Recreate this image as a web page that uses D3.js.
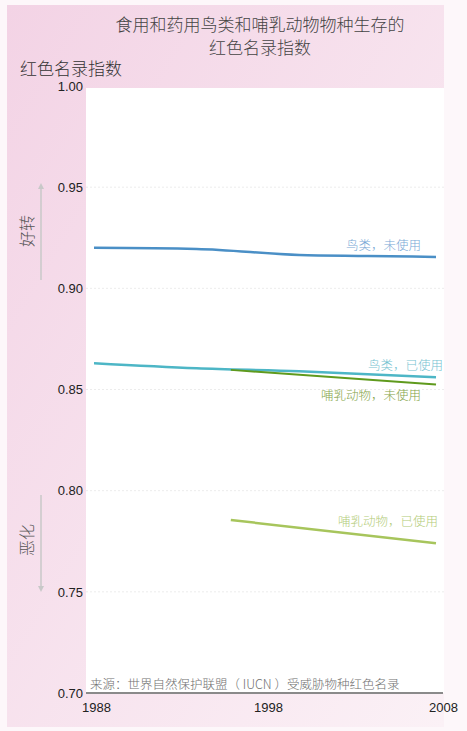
<!DOCTYPE html>
<html>
<head>
<meta charset="utf-8">
<script src="https://cdn.jsdelivr.net/npm/d3@7"></script>
<style>
  body { margin: 0; background: #fdf7fa; }
  svg { display: block; font-family: "Liberation Sans", Arial, sans-serif; }
  .cjk { font-family: "Noto Sans CJK SC", sans-serif; font-weight: 300; }
</style>
</head>
<body>
<div id="chart"></div>
<script>
// years on the x axis
var xTicks = [1988, 1998, 2008];
var yTicks = [0.70, 0.75, 0.80, 0.85, 0.90, 0.95, 1.00];

// series
var birdYears = [1988, 1994, 2000, 2004, 2008];
var birdsNotUsed = [0.920, 0.9195, 0.9165, 0.916, 0.9155];
var birdsUsed = [0.863, 0.8605, 0.859, 0.8575, 0.856];
var mammalYears = [1996, 2008];
var mammalsNotUsed = [0.8597, 0.8525];
var mammalsUsed = [0.7855, 0.774];

var seriesNames = ["鸟类，未使用", "鸟类，已使用", "哺乳动物，未使用", "哺乳动物，已使用"];

var width = 467, height = 731;

var svg = d3.select("#chart").append("svg")
  .attr("width", width)
  .attr("height", height);

var defs = svg.append("defs");
var grad = defs.append("linearGradient")
  .attr("id", "bg")
  .attr("x1", "0%").attr("y1", "0%")
  .attr("x2", "100%").attr("y2", "100%");
grad.append("stop").attr("offset", "0%").attr("stop-color", "#f3d3e5");
grad.append("stop").attr("offset", "100%").attr("stop-color", "#fbf1f6");

// pink panel
svg.append("rect")
  .attr("x", 7).attr("y", 5)
  .attr("width", 437).attr("height", 722)
  .attr("fill", "url(#bg)");

var plot = {left: 86, right: 444, top: 88, bottom: 693};

svg.append("rect")
  .attr("x", plot.left).attr("y", plot.top)
  .attr("width", plot.right - plot.left)
  .attr("height", plot.bottom - plot.top)
  .attr("fill", "#fff");

var x = d3.scaleLinear().domain([1988, 2008]).range([94, 436]);
var y = d3.scaleLinear().domain([0.70, 1.00]).range([693, 86]);

// grid lines
svg.append("g")
  .selectAll("line")
  .data(yTicks.slice(1, -1))
  .enter().append("line")
  .attr("x1", plot.left).attr("x2", plot.right)
  .attr("y1", function(d) { return y(d); })
  .attr("y2", function(d) { return y(d); })
  .attr("stroke", "#ececec")
  .attr("stroke-dasharray", "2,2");

// y axis labels
var yAxis = svg.append("g")
  .attr("transform", "translate(" + 83 + ",0)")
  .call(d3.axisLeft(y).tickValues(yTicks).tickFormat(d3.format(".2f")).tickSize(0).tickPadding(0));
yAxis.select(".domain").remove();
yAxis.selectAll("text").attr("font-size", 13).attr("fill", "#222")
  .attr("font-family", "Liberation Sans, Arial, sans-serif");

// x axis
var xAxis = svg.append("g")
  .attr("transform", "translate(0," + plot.bottom + ")")
  .call(d3.axisBottom(x).tickValues(xTicks).tickFormat(d3.format("d")).tickSize(0).tickPadding(10));
xAxis.select(".domain").remove();
xAxis.selectAll("text").attr("font-size", 13).attr("fill", "#222")
  .attr("font-family", "Liberation Sans, Arial, sans-serif")
  .attr("dx", function(d, i) { return [2, 3, 7][i]; });

svg.append("line")
  .attr("x1", plot.left).attr("x2", plot.right - 1)
  .attr("y1", plot.bottom).attr("y2", plot.bottom)
  .attr("stroke", "#8a8a8a")
  .attr("stroke-width", 2);

var line = d3.line()
  .x(function(d) { return x(d[0]); })
  .y(function(d) { return y(d[1]); })
  .curve(d3.curveMonotoneX);

var series = [
  {years: birdYears, values: birdsNotUsed, color: "#4a8fc6", label: "#78a9d6", lx: 421, ly: 250, w: 2.5},
  {years: birdYears, values: birdsUsed, color: "#4db6c6", label: "#76c3d1", lx: 443, ly: 370, w: 2.5},
  {years: mammalYears, values: mammalsNotUsed, color: "#5f9a1d", label: "#83a446", lx: 421, ly: 400, w: 2},
  {years: mammalYears, values: mammalsUsed, color: "#a7c55c", label: "#b3cc78", lx: 438, ly: 526, w: 2.5}
];

var draw = [series[0], series[1], series[3], series[2]];
svg.append("g")
  .selectAll("path")
  .data(draw)
  .enter().append("path")
  .attr("d", function(s) { return line(d3.zip(s.years, s.values)); })
  .attr("fill", "none")
  .attr("stroke", function(s) { return s.color; })
  .attr("stroke-width", function(s) { return s.w; })
  .attr("stroke-linecap", "butt");

svg.append("g")
  .selectAll("text")
  .data(series)
  .enter().append("text")
  .attr("class", "cjk")
  .attr("x", function(s) { return s.lx; })
  .attr("y", function(s) { return s.ly; })
  .attr("text-anchor", "end")
  .attr("font-size", 12.5)
  .attr("fill", function(s) { return s.label; })
  .text(function(s, i) { return seriesNames[i]; });

// title
var title = svg.append("text")
  .attr("class", "cjk")
  .attr("text-anchor", "middle")
  .attr("font-size", 17)
  .attr("fill", "#444");
title.append("tspan").attr("x", 260).attr("y", 31).text("食用和药用鸟类和哺乳动物物种生存的");
title.append("tspan").attr("x", 260).attr("y", 54).text("红色名录指数");

svg.append("text")
  .attr("class", "cjk")
  .attr("x", 20).attr("y", 75)
  .attr("font-size", 17)
  .attr("fill", "#333")
  .text("红色名录指数");

// improvement / deterioration arrows
defs.append("marker")
  .attr("id", "arrow")
  .attr("viewBox", "0 0 10 10")
  .attr("refX", 5).attr("refY", 5)
  .attr("markerWidth", 4).attr("markerHeight", 4)
  .attr("orient", "auto")
  .append("path")
  .attr("d", "M0,0L10,5L0,10z")
  .attr("fill", "#c8c8c8");

svg.append("line")
  .attr("x1", 41).attr("x2", 41)
  .attr("y1", 280).attr("y2", 186)
  .attr("stroke", "#c8c8c8").attr("stroke-width", 1.5)
  .attr("marker-end", "url(#arrow)");

svg.append("line")
  .attr("x1", 41).attr("x2", 41)
  .attr("y1", 495).attr("y2", 589)
  .attr("stroke", "#c8c8c8").attr("stroke-width", 1.5)
  .attr("marker-end", "url(#arrow)");

svg.append("text")
  .attr("class", "cjk")
  .attr("transform", "translate(33,231) rotate(-90)")
  .attr("text-anchor", "middle")
  .attr("font-size", 16)
  .attr("fill", "#555")
  .text("好转");

svg.append("text")
  .attr("class", "cjk")
  .attr("transform", "translate(33,540) rotate(-90)")
  .attr("text-anchor", "middle")
  .attr("font-size", 16)
  .attr("fill", "#555")
  .text("恶化");

// source note
svg.append("text")
  .attr("class", "cjk")
  .attr("x", 90).attr("y", 689)
  .attr("font-size", 12.5)
  .attr("fill", "#707070")
  .text("来源：世界自然保护联盟（ IUCN ）受威胁物种红色名录");
</script>
</body>
</html>
